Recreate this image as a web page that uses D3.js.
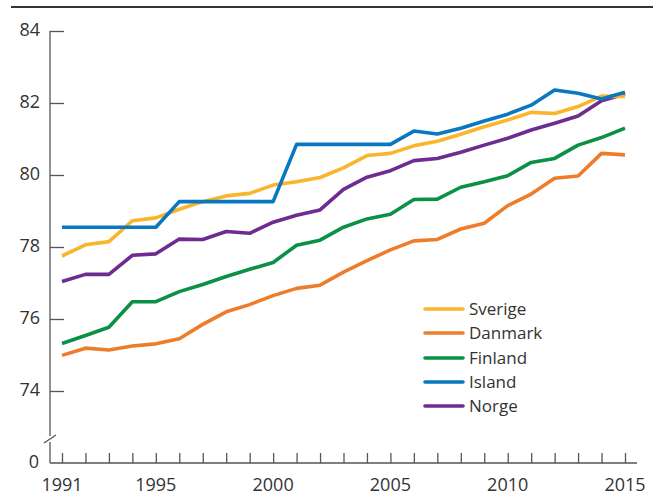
<!DOCTYPE html>
<html>
<head>
<meta charset="utf-8">
<script src="https://cdn.jsdelivr.net/npm/d3@7"></script>
<style>
  html, body { margin: 0; padding: 0; background: #fff; }
  svg text { font-family: "Open Sans", "Noto Sans", sans-serif; fill: #333; }
</style>
</head>
<body>
<svg id="chart" width="654" height="497"></svg>
<script>
const years = d3.range(1991, 2016);
const seriesNames = ["Sverige", "Danmark", "Finland", "Island", "Norge"];
const sverige = [77.75, 78.06, 78.15, 78.73, 78.81, 79.05, 79.26, 79.42, 79.49, 79.72, 79.81, 79.93, 80.2, 80.54, 80.6, 80.81, 80.94, 81.13, 81.34, 81.53, 81.74, 81.71, 81.9, 82.19, 82.18];
const danmark = [74.99, 75.19, 75.14, 75.25, 75.31, 75.45, 75.85, 76.2, 76.4, 76.65, 76.85, 76.94, 77.3, 77.62, 77.92, 78.17, 78.21, 78.5, 78.66, 79.15, 79.47, 79.91, 79.97, 80.6, 80.56];
const finland = [75.32, 75.54, 75.77, 76.48, 76.48, 76.76, 76.96, 77.18, 77.38, 77.57, 78.05, 78.19, 78.55, 78.78, 78.91, 79.32, 79.33, 79.66, 79.81, 79.98, 80.35, 80.46, 80.83, 81.04, 81.3];
const island = [78.55, 78.55, 78.55, 78.55, 78.55, 79.26, 79.26, 79.26, 79.26, 79.26, 80.85, 80.85, 80.85, 80.85, 80.85, 81.22, 81.14, 81.3, 81.5, 81.69, 81.94, 82.36, 82.27, 82.11, 82.3];
const norge = [77.04, 77.24, 77.24, 77.77, 77.81, 78.22, 78.21, 78.43, 78.38, 78.69, 78.88, 79.03, 79.6, 79.94, 80.12, 80.4, 80.46, 80.63, 80.83, 81.02, 81.25, 81.44, 81.64, 82.06, 82.25];
const yTicks = [74, 76, 78, 80, 82, 84];
const xTickLabels = [1991, 1995, 2000, 2005, 2010, 2015];
const colors = ["#f9b52b", "#ee7d2b", "#0a9146", "#0a78bf", "#6e2c91"];

const valuesByName = { Sverige: sverige, Danmark: danmark, Finland: finland, Island: island, Norge: norge };

const svg = d3.select("#chart");

// top rule
svg.append("line").attr("x1", 11).attr("x2", 653).attr("y1", 7).attr("y2", 7)
  .attr("stroke", "#333").attr("stroke-width", 2);

const x = d3.scaleLinear().domain([1991, 2015]).range([62, 625]);
const y = d3.scaleLinear().domain([72, 84]).range([463, 31]);
const axisX0 = 50, axisY0 = 463;

const axisColor = "#555";
// y axis line with break
const yAxisG = svg.append("g");
yAxisG.append("line").attr("x1", axisX0).attr("x2", axisX0).attr("y1", y(84)).attr("y2", 436)
  .attr("stroke", axisColor).attr("stroke-width", 1.3);
yAxisG.append("line").attr("x1", 56).attr("x2", 44).attr("y1", 435).attr("y2", 443)
  .attr("stroke", axisColor).attr("stroke-width", 1.3);
yAxisG.append("line").attr("x1", axisX0).attr("x2", axisX0).attr("y1", 442).attr("y2", axisY0)
  .attr("stroke", axisColor).attr("stroke-width", 1.3);

// y ticks (inside) via d3 axis
const yAxis = d3.axisRight(y).tickValues(yTicks).tickSize(14).tickFormat("");
const yg = svg.append("g").attr("transform", `translate(${axisX0},0)`).call(yAxis);
yg.select(".domain").remove();
yg.selectAll(".tick line").attr("stroke", axisColor).attr("stroke-width", 1.3);

// y labels
svg.append("g").selectAll("text").data(yTicks).join("text")
  .attr("x", 40).attr("y", d => y(d) - 1.5).attr("dy", "0.35em")
  .attr("text-anchor", "end").attr("font-size", 18).text(d => d);
svg.append("text").attr("x", 39).attr("y", axisY0 - 1).attr("dy", "0.35em")
  .attr("text-anchor", "end").attr("font-size", 18).text("0");

// x axis
svg.append("line").attr("x1", axisX0).attr("x2", 637).attr("y1", axisY0).attr("y2", axisY0)
  .attr("stroke", axisColor).attr("stroke-width", 1.3);
const xAxis = d3.axisTop(x).tickValues(years).tickSize(10).tickFormat("");
const xg = svg.append("g").attr("transform", `translate(0,${axisY0})`).call(xAxis);
xg.select(".domain").remove();
xg.selectAll(".tick line").attr("stroke", axisColor).attr("stroke-width", 1.3);

svg.append("g").selectAll("text").data(xTickLabels).join("text")
  .attr("x", d => x(d)).attr("y", 490.5)
  .attr("text-anchor", "middle").attr("font-size", 18).text(d => d);

// lines
const line = d3.line().x((d, i) => x(years[i])).y(d => y(d)).curve(d3.curveLinear);
const drawOrder = ["Danmark", "Finland", "Norge", "Sverige", "Island"];
svg.append("g").selectAll("path").data(drawOrder).join("path")
  .attr("d", n => line(valuesByName[n]))
  .attr("fill", "none")
  .attr("stroke", n => colors[seriesNames.indexOf(n)])
  .attr("stroke-width", 3.6)
  .attr("stroke-linejoin", "round");

// legend
const lg = svg.append("g");
const legendY = [309, 333, 358, 382, 406];
seriesNames.forEach((n, i) => {
  lg.append("line").attr("x1", 425).attr("x2", 463).attr("y1", legendY[i]).attr("y2", legendY[i])
    .attr("stroke", colors[i]).attr("stroke-width", 3.6).attr("stroke-linecap", "round");
  lg.append("text").attr("x", 469).attr("y", legendY[i]).attr("dy", "0.35em")
    .attr("font-size", 17).text(n);
});
</script>
</body>
</html>
